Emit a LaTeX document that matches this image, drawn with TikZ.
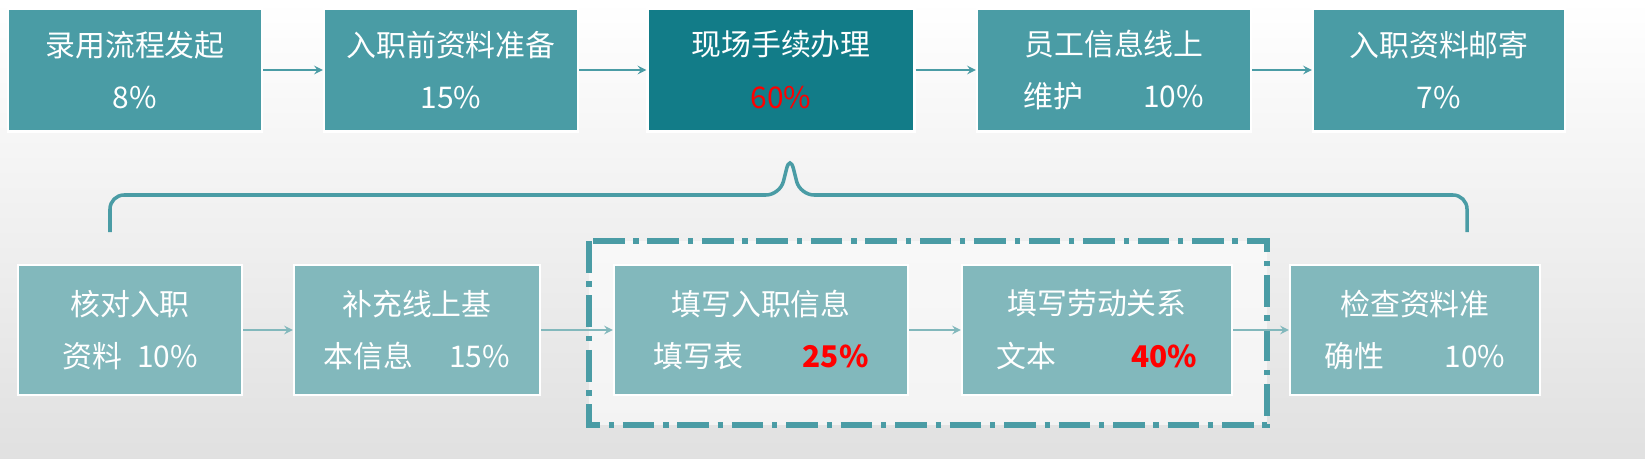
\documentclass[tikz,border=0pt]{standalone}
\usepackage{fontspec}
\setmainfont{Noto Sans CJK SC}
\usetikzlibrary{positioning,calc}
\definecolor{topteal}{HTML}{4A9CA5}
\definecolor{darkteal}{HTML}{127C88}
\definecolor{lowteal}{HTML}{82B8BC}
\definecolor{pctred}{HTML}{FF0000}
\tikzset{
  stagebox/.style={draw=white, line width=1.2pt, fill=topteal, text=white, align=center,
    minimum height=123*0.02cm, inner sep=0pt, font=\fontsize{17}{30}\selectfont},
  subbox/.style={stagebox, fill=lowteal, minimum height=130*0.02cm},
  flow/.style={->, draw=topteal, line width=1.2pt, >=stealth},
  subflow/.style={->, draw=lowteal, line width=1.2pt, >=stealth},
}
\begin{document}
\begin{tikzpicture}[x=0.02cm,y=-0.02cm]
    %% background
    \shade[top color=white, bottom color=black!12] (0,0) rectangle (1645,459);
    \useasboundingbox (0,0) rectangle (1645,459);
    %% top row
    \node[stagebox, minimum width=254*0.02cm] (recruit) at (135,70) {录用流程发起\\8\%};
    \node[stagebox, minimum width=254*0.02cm] (prepare) at (451,70) {入职前资料准备\\15\%};
    \node[stagebox, fill=darkteal, minimum width=267*0.02cm] (onsite) at (781,70) {现场手续办理\\{\color{pctred}60\%}};
    \node[stagebox, minimum width=274*0.02cm] (online) at (1114,70) {员工信息线上\\维护\hspace{2em}10\%};
    \node[stagebox, minimum width=252*0.02cm] (mail) at (1439,70) {入职资料邮寄\\7\%};
    \draw[flow] (recruit) -- (prepare);
    \draw[flow] (prepare) -- (onsite);
    \draw[flow] (onsite) -- (online);
    \draw[flow] (online) -- (mail);
    %% brace
    \coordinate (bl) at (110,232);
    \coordinate (br) at (1467,232);
    \coordinate (bm) at (790,155);
    \draw[draw=topteal, line width=2pt, rounded corners=8pt]
      (bl) |- (780,195) -- (bm) -- (800,195) -| (br);
    %% dashed frame
    \draw[draw=topteal, line width=3.5pt, dash pattern=on 18pt off 5pt on 3pt off 5pt, fill=white, fill opacity=0.6]
      (589,241) rectangle (1267,425);
    %% bottom row
    \node[subbox, minimum width=224*0.02cm] (check) at (130,330) {核对入职\\资料\hspace{0.5em}10\%};
    \node[subbox, minimum width=246*0.02cm] (supply) at (417,330) {补充线上基\\本信息\hspace{1.2em}15\%};
    \node[subbox, minimum width=294*0.02cm] (form) at (761,330) {填写入职信息\\填写表\hspace{2em}{\color{pctred}\bfseries 25\%}};
    \node[subbox, minimum width=270*0.02cm] (contract) at (1097,330) {填写劳动关系\\文本\hspace{2.5em}{\color{pctred}\bfseries 40\%}};
    \node[subbox, minimum width=250*0.02cm] (verify) at (1415,330) {检查资料准\\确性\hspace{2em}10\%};
    \draw[subflow] (check) -- (supply);
    \draw[subflow] (supply) -- (form);
    \draw[subflow] (form) -- (contract);
    \draw[subflow] (contract) -- (verify);
\end{tikzpicture}
\end{document}
